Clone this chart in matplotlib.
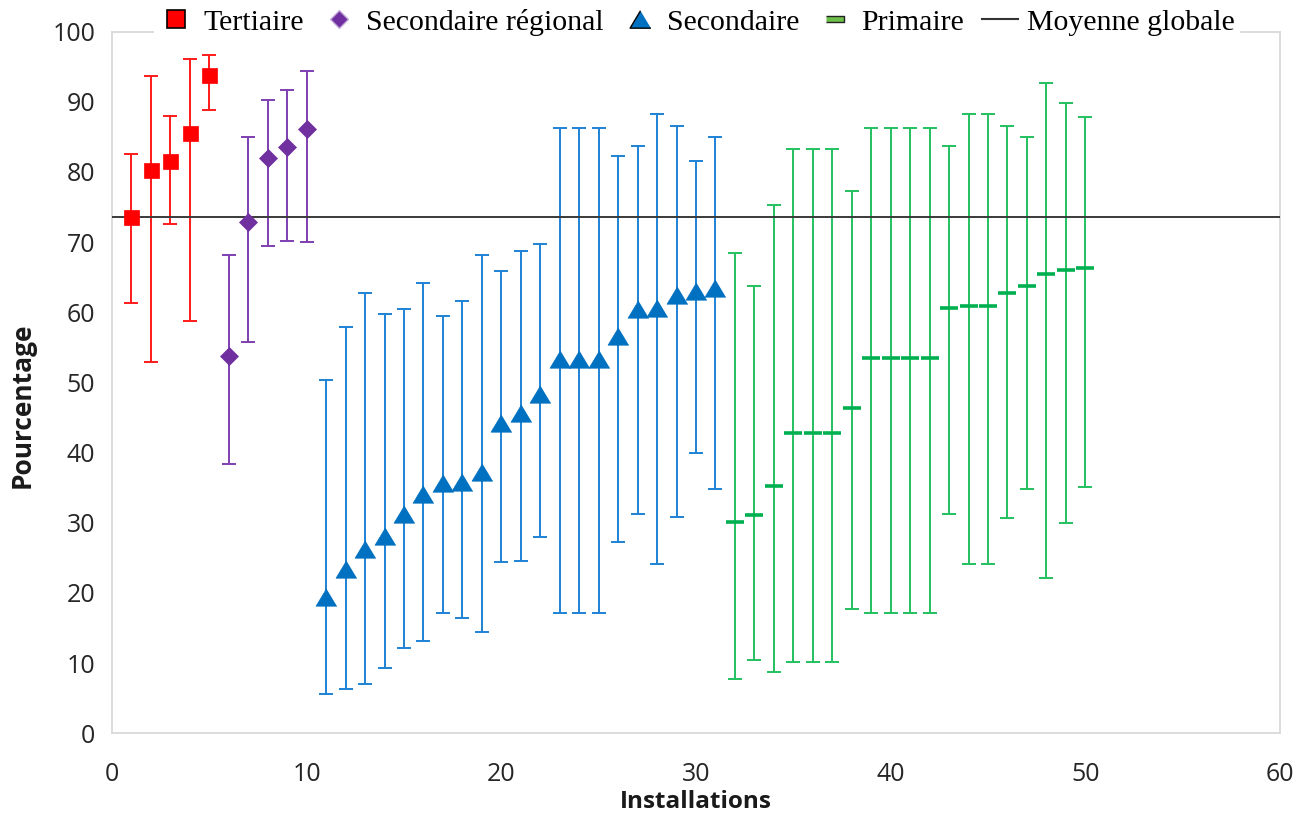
import matplotlib
matplotlib.use("Agg")
import matplotlib.pyplot as plt
from matplotlib.lines import Line2D

# ---- data ----
tert_x = [1, 2, 3, 4, 5]
tert_mean = [73.6, 80.3, 81.5, 85.6, 93.8]
tert_low = [61.3, 52.9, 72.5, 58.7, 88.8]
tert_high = [82.6, 93.7, 88.0, 96.1, 96.6]

reg_x = [6, 7, 8, 9, 10]
reg_mean = [53.8, 72.9, 82.0, 83.6, 86.1]
reg_low = [38.4, 55.7, 69.4, 70.2, 70.0]
reg_high = [68.2, 84.9, 90.3, 91.6, 94.4]

sec_x = list(range(11, 32))
sec_mean = [19.4, 23.4, 26.3, 28.1, 31.3, 34.1, 35.6, 35.8, 37.2, 44.2, 45.6,
            48.4, 53.3, 53.3, 53.3, 56.6, 60.4, 60.6, 62.4, 63.0, 63.4]
sec_low = [5.6, 6.3, 7.0, 9.3, 12.2, 13.2, 17.2, 16.4, 14.4, 24.4, 24.6,
           27.9, 17.2, 17.2, 17.2, 27.2, 31.2, 24.1, 30.8, 39.9, 34.8]
sec_high = [50.3, 57.9, 62.8, 59.7, 60.5, 64.1, 59.5, 61.6, 68.2, 65.9, 68.7,
            69.7, 86.2, 86.2, 86.2, 82.2, 83.7, 88.2, 86.5, 81.6, 85.0]

prim_x = list(range(32, 51))
prim_mean = [30.1, 31.1, 35.2, 42.8, 42.8, 42.8, 46.4, 53.5, 53.5, 53.5,
             53.5, 60.6, 60.9, 60.9, 62.7, 63.7, 65.5, 66.0, 66.3]
prim_low = [7.8, 10.4, 8.8, 10.1, 10.1, 10.1, 17.7, 17.2, 17.2, 17.2,
            17.2, 31.2, 24.1, 24.1, 30.7, 34.8, 22.1, 30.0, 35.1]
prim_high = [68.4, 63.8, 75.3, 83.2, 83.2, 83.2, 77.3, 86.2, 86.2, 86.2,
             86.2, 83.7, 88.3, 88.3, 86.5, 85.0, 92.6, 89.8, 87.8]

global_mean = 73.5

x_ticks = [0, 10, 20, 30, 40, 50, 60]
y_ticks = [0, 10, 20, 30, 40, 50, 60, 70, 80, 90, 100]

# triangle a bit wider than tall, centred on the point
tri = [(0, 1), (-1.2, -1), (1.2, -1)]

series = [
    # x, mean, low, high, bar colour, marker colour, marker, size, label
    (tert_x, tert_mean, tert_low, tert_high, '#FF1A1A', '#FF0000', 's', 10.8, 'Tertiaire'),
    (reg_x, reg_mean, reg_low, reg_high, '#7F3FB0', '#7030A0', 'D', 8.9, 'Secondaire régional'),
    (sec_x, sec_mean, sec_low, sec_high, '#1E82D6', '#0070C0', tri, 15, 'Secondaire'),
    (prim_x, prim_mean, prim_low, prim_high, '#22C060', '#00B050', '_', 13.5, 'Primaire'),
]

fig = plt.figure(figsize=(12.97, 8.16), dpi=100)
ax = fig.add_axes([112 / 1297, 1 - 733.3 / 816, (1280 - 112) / 1297, (733.3 - 31.5) / 816])

for xs, m, lo, hi, bar_c, mk_c, mk, ms, lab in series:
    err = [[a - b for a, b in zip(m, lo)], [c - a for a, c in zip(m, hi)]]
    ax.errorbar(xs, m, yerr=err, fmt='none', ecolor=bar_c, elinewidth=1.4,
                capsize=4.8, capthick=1.4, zorder=2)
    if mk == '_':
        ax.plot(xs, m, linestyle='none', marker=mk, markersize=ms,
                markeredgewidth=2.6, color=mk_c, zorder=4)
    else:
        ax.plot(xs, m, linestyle='none', marker=mk, markersize=ms,
                markerfacecolor=mk_c, markeredgecolor=mk_c, markeredgewidth=0.5,
                zorder=4)

ax.axhline(global_mean, color='#3a3a3a', linewidth=1.4, zorder=3)

ax.set_xlim(0, 60)
ax.set_ylim(0, 100)
ax.set_xticks(x_ticks)
ax.set_yticks(y_ticks)
for s in ax.spines.values():
    s.set_color('#D9D9D9')
    s.set_linewidth(1.3)
ax.tick_params(axis='both', length=0, labelsize=18, labelcolor='#262626')
ax.tick_params(axis='y', pad=12)
ax.tick_params(axis='x', pad=21)
for lbl in ax.get_xticklabels() + ax.get_yticklabels():
    lbl.set_fontfamily('Open Sans')

fig.text(0.5 * (112 + 1280) / 1297, 1 - 802 / 816, 'Installations', ha='center', va='center',
         fontsize=17.5, fontweight='bold', family='Open Sans', color='#1a1a1a')
fig.text(22 / 1297, 1 - 405 / 816, 'Pourcentage', ha='center', va='center', rotation=90,
         fontsize=19, fontweight='bold', family='Open Sans', color='#1a1a1a')

handles = [
    Line2D([], [], linestyle='none', marker='s', markersize=13, markerfacecolor='#FF0000',
           markeredgecolor='black', markeredgewidth=1.2),
    Line2D([], [], linestyle='none', marker='D', markersize=9, markerfacecolor='#7030A0',
           markeredgecolor='#C8B0DC', markeredgewidth=1.0),
    Line2D([], [], linestyle='none', marker=tri, markersize=15, markerfacecolor='#0070C0',
           markeredgecolor='black', markeredgewidth=1.0),
    Line2D([], [], linestyle='none', marker=[(-1, -0.3), (1, -0.3), (1, 0.3), (-1, 0.3)],
           markersize=13, markerfacecolor='#6CC04A', markeredgecolor='#222222', markeredgewidth=1.0),
    Line2D([], [], color='#333333', linewidth=1.5),
]
labels = [s[-1] for s in series] + ['Moyenne globale']
leg = fig.legend(handles, labels, loc='center', bbox_to_anchor=(0.537, 1 - 22 / 816), ncol=5,
                 frameon=True, fancybox=False, edgecolor='white', facecolor='white', framealpha=1,
                 prop={'family': 'Liberation Serif', 'size': 21.5}, handlelength=1.2,
                 handletextpad=0.3, columnspacing=0.6, borderpad=0.15)
leg.set_zorder(10)

fig.savefig('out.png', dpi=100)
